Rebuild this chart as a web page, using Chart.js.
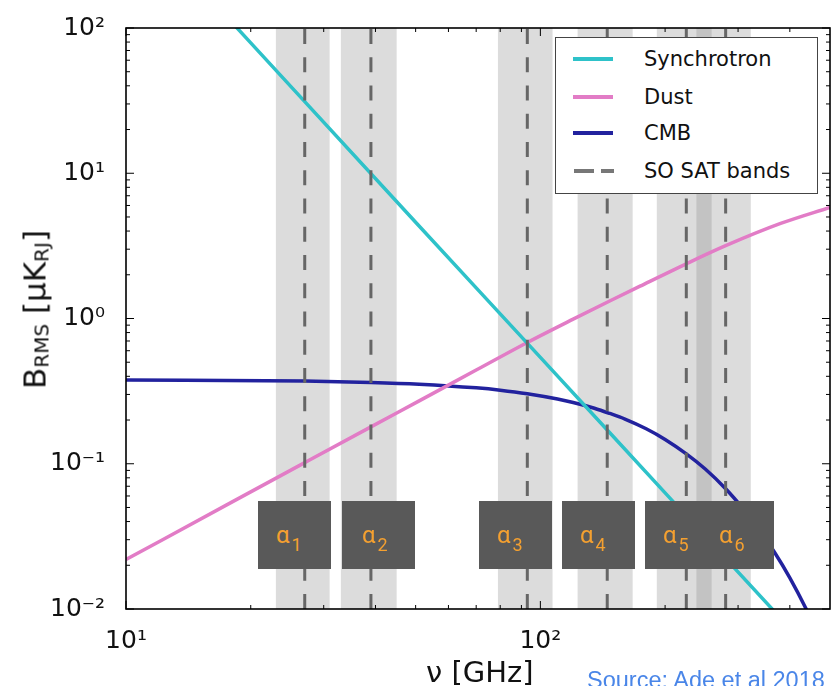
<!DOCTYPE html>
<html>
<head>
<meta charset="utf-8">
<script src="https://cdn.jsdelivr.net/npm/chart.js@4.4.1/dist/chart.umd.min.js"></script>
<style>
  body { margin: 0; background: #fff; }
  #wrap { position: relative; width: 832px; height: 686px; overflow: hidden; background: #fff; }
  #c { position: absolute; left: 0; top: 0; }
  .lbl { position: absolute; font-family: "DejaVu Sans", sans-serif; color: #111; white-space: nowrap; }
  #ylab { left: -65px; top: 294px; width: 200px; height: 31px; line-height: 31px; font-size: 31px; text-align: center; transform: rotate(-90deg); }
  #ylab sub { font-size: 20px; vertical-align: -3px; line-height: 20px; }
  #xlab { left: 426px; top: 658px; font-size: 29px; line-height: 29px; }
  #legend { position: absolute; left: 555px; top: 37px; width: 263px; height: 157px; box-sizing: border-box; border: 1px solid #444; background: #fff; }
  .row { position: absolute; left: 0; width: 100%; height: 21px; }
  .swatch { position: absolute; left: 17px; top: 8px; width: 40px; height: 4px; }
  .dash { position: absolute; top: 8px; height: 4px; background: #777; }
  .row span.t { position: absolute; left: 88px; top: 0; font-family: "DejaVu Sans", sans-serif; font-size: 21px; line-height: 21px; color: #111; white-space: nowrap; }
  .abox { position: absolute; top: 501px; width: 73px; height: 68px; background: #595959; color: #f4a030; font-family: Roboto, sans-serif; font-size: 24px; line-height: 24px; box-sizing: border-box; padding-top: 22px; }
  .abox sub { font-size: 18px; line-height: 18px; vertical-align: -8px; margin-left: 2px; }
  #src { position: absolute; left: 587px; top: 669px; font-family: "Liberation Sans", Arial, sans-serif; font-size: 23.5px; line-height: 23.5px; color: #4a86e8; white-space: nowrap; }
</style>
</head>
<body>
<div id="wrap">
  <canvas id="c" width="832" height="686"></canvas>
  <div id="ylab" class="lbl">B<sub>RMS</sub> [μK<sub>RJ</sub>]</div>
  <div id="xlab" class="lbl">ν [GHz]</div>
  <div id="legend"></div>
  <div id="boxes"></div>
  <div id="src">Source: Ade et al 2018</div>
</div>
<script>
// frequencies in GHz, brightness in uK_RJ
const synchFreq = [10, 20, 50, 100, 200, 500];
const synchVals = [680, 79, 4.6, 0.54, 0.063, 0.0037];

const dustFreq = [10, 18, 27, 39, 51, 70, 93, 120, 147, 174, 225, 280, 380, 500];
const dustVals = [0.0219, 0.0544, 0.1018, 0.1795, 0.271, 0.4416, 0.684, 0.99, 1.32, 1.67, 2.38, 3.17, 4.51, 5.82];

const cmbFreq = [10, 27, 39, 51, 70, 80, 93, 110, 120, 135, 147, 160, 180, 200, 225, 250, 280, 310, 330, 366, 400, 438, 500];
const cmbVals = [0.377, 0.371, 0.363, 0.353, 0.333, 0.321, 0.3035, 0.279, 0.264, 0.241, 0.222, 0.203, 0.174, 0.147, 0.117, 0.092, 0.0673, 0.0483, 0.0385, 0.025, 0.0164, 0.0100, 0.0044];

// SO SAT bands: centre and edges
const bandCenter = [27, 39, 93, 145, 225, 280];
const bandLow = [23, 33, 79, 123, 191, 238];
const bandHigh = [31, 45, 107, 167, 259, 322];
const bandLabels = ['1', '2', '3', '4', '5', '6'];

const seriesNames = ['Synchrotron', 'Dust', 'CMB', 'SO SAT bands'];
const seriesColors = ['#2ec2c9', '#e27cc6', '#22229e', '#666666'];

const xMajor = [10, 100];
const xTickLabels = ['10¹', '10²'];
const xMinor = [20, 30, 40, 50, 60, 70, 80, 90, 200, 300, 400];
const yMajor = [0.01, 0.1, 1, 10, 100];
const yTickLabels = ['10⁻²', '10⁻¹', '10⁰', '10¹', '10²'];

const yMinor = [];
[0.01, 0.1, 1, 10].forEach(d => {
    for (let k = 2; k <= 9; k++) yMinor.push(d * k);
});

function pts(fx, vy) {
    return fx.map((f, i) => ({ x: f, y: vy[i] }));
}

const datasets = [];
// dashed band centres, drawn on top
bandCenter.forEach(c => {
    datasets.push({
        label: seriesNames[3],
        data: [{ x: c, y: 0.01 }, { x: c, y: 100 }],
        borderColor: seriesColors[3],
        borderWidth: 3,
        borderDash: [15, 13.25],
        pointRadius: 0,
        order: 0
    });
});
[[synchFreq, synchVals], [dustFreq, dustVals], [cmbFreq, cmbVals]].forEach((s, i) => {
    datasets.push({
        label: seriesNames[i],
        data: pts(s[0], s[1]),
        borderColor: seriesColors[i],
        borderWidth: 3.5,
        pointRadius: 0,
        cubicInterpolationMode: 'monotone',
        order: 1
    });
});

// grey band shading under the lines
const bandShade = {
    id: 'bandShade',
    beforeDatasetsDraw(chart) {
        const { ctx, chartArea: a, scales: { x } } = chart;
        ctx.save();
        ctx.fillStyle = 'rgba(128,128,128,0.28)';
        bandLow.forEach((lo, i) => {
            const x0 = x.getPixelForValue(lo);
            const x1 = x.getPixelForValue(bandHigh[i]);
            ctx.fillRect(x0, a.top, x1 - x0, a.bottom - a.top);
        });
        ctx.restore();
    }
};

// matplotlib-style frame with inward ticks on all four sides
const frameTicks = {
    id: 'frameTicks',
    afterDraw(chart) {
        const { ctx, chartArea: a, scales: { x, y } } = chart;
        ctx.save();
        ctx.strokeStyle = '#000';
        ctx.lineWidth = 1;
        const seg = (x1, y1, x2, y2) => { ctx.beginPath(); ctx.moveTo(x1, y1); ctx.lineTo(x2, y2); ctx.stroke(); };
        xMajor.forEach(v => { const p = x.getPixelForValue(v); seg(p, a.bottom, p, a.bottom - 8); seg(p, a.top, p, a.top + 8); });
        xMinor.forEach(v => { const p = x.getPixelForValue(v); seg(p, a.bottom, p, a.bottom - 4); seg(p, a.top, p, a.top + 4); });
        yMajor.forEach(v => { const p = y.getPixelForValue(v); seg(a.left, p, a.left + 8, p); seg(a.right, p, a.right - 8, p); });
        yMinor.forEach(v => { const p = y.getPixelForValue(v); seg(a.left, p, a.left + 4, p); seg(a.right, p, a.right - 4, p); });
        ctx.lineWidth = 1.6;
        ctx.strokeRect(a.left, a.top, a.right - a.left, a.bottom - a.top);
        ctx.restore();
    }
};

new Chart(document.getElementById('c'), {
    type: 'line',
    data: { datasets: datasets },
    options: {
        responsive: false,
        animation: false,
        devicePixelRatio: 1,
        layout: { padding: { top: 24, right: 2, left: 0, bottom: 0 } },
        plugins: { legend: { display: false }, tooltip: { enabled: false } },
        scales: {
            x: {
                type: 'logarithmic',
                min: 10,
                max: 500,
                grid: { display: false },
                border: { display: false },
                afterBuildTicks: s => { s.ticks = xMajor.map(v => ({ value: v })); },
                afterFit: s => { s.height = 77; },
                ticks: {
                    autoSkip: false,
                    maxRotation: 0,
                    padding: 9,
                    color: '#111',
                    font: { family: 'DejaVu Sans', size: 25 },
                    callback: v => xTickLabels[xMajor.indexOf(v)]
                }
            },
            y: {
                type: 'logarithmic',
                min: 0.01,
                max: 100,
                grid: { display: false },
                border: { display: false },
                afterBuildTicks: s => { s.ticks = yMajor.map(v => ({ value: v })); },
                afterFit: s => { s.width = 126; },
                ticks: {
                    autoSkip: false,
                    padding: 13,
                    color: '#111',
                    font: { family: 'DejaVu Sans', size: 25 },
                    callback: v => yTickLabels[yMajor.indexOf(v)]
                }
            }
        }
    },
    plugins: [bandShade, frameTicks]
});

// legend
const legend = document.getElementById('legend');
const rowTops = [11, 49, 85, 123];
seriesNames.forEach((name, i) => {
    const row = document.createElement('div');
    row.className = 'row';
    row.style.top = rowTops[i] + 'px';
    if (i < 3) {
        row.innerHTML = `<div class="swatch" style="background:${seriesColors[i]}"></div>`;
    } else {
        row.innerHTML = `<div class="dash" style="left:18px;width:20px"></div><div class="dash" style="left:45px;width:13px"></div>`;
    }
    row.innerHTML += `<span class="t">${name}</span>`;
    legend.appendChild(row);
});

// alpha annotation boxes
const boxLeft = [258, 342, 479, 562, 645, 701];
const boxes = document.getElementById('boxes');
boxLeft.forEach((l, i) => {
    const b = document.createElement('div');
    b.className = 'abox';
    b.style.left = l + 'px';
    b.style.paddingLeft = (i === 1 ? 20 : 18) + 'px';
    b.innerHTML = `α<sub>${bandLabels[i]}</sub>`;
    boxes.appendChild(b);
});
</script>
</body>
</html>
